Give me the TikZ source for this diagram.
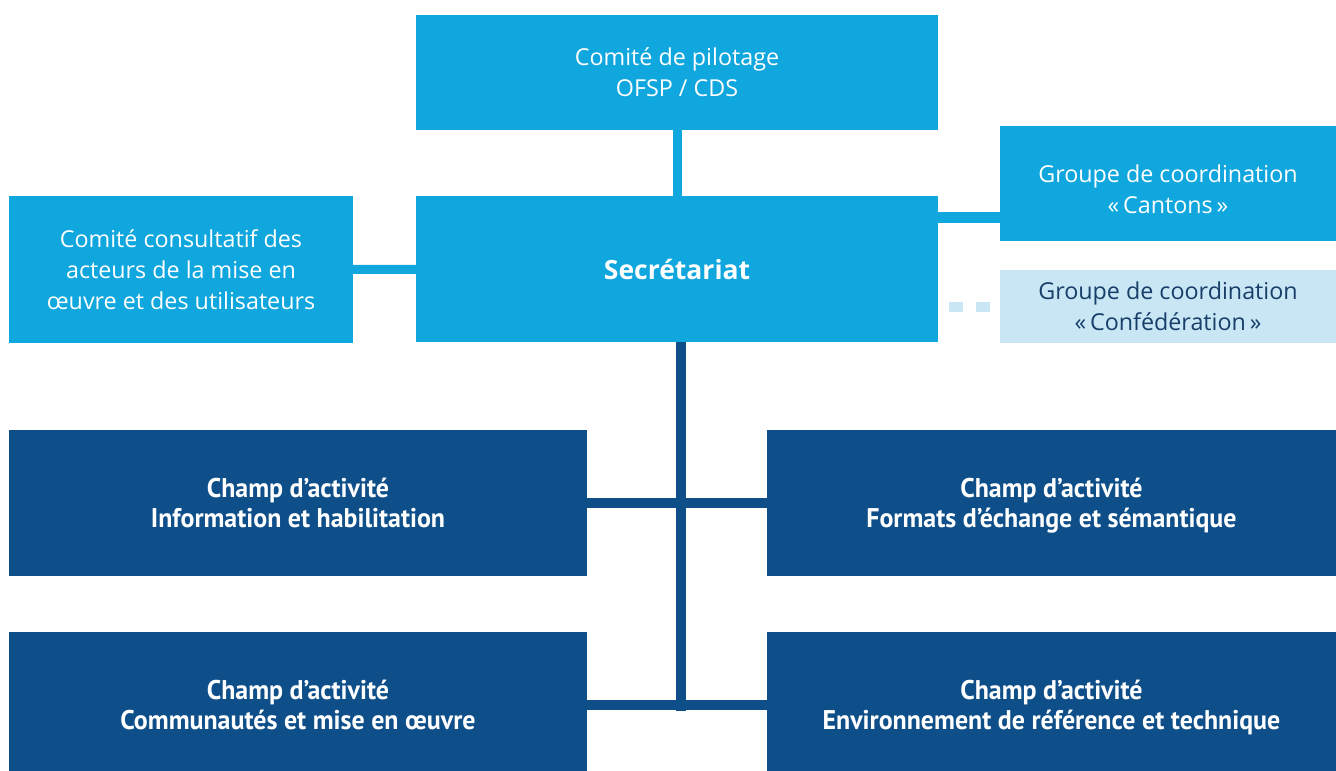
\documentclass[tikz,border=0pt]{standalone}
\usepackage{fontspec}
\setmainfont{Open Sans}
\newfontfamily\champfont{PT Sans}[FakeStretch=0.96]
\usepackage{xcolor}
\definecolor{orgblue}{RGB}{16,166,222}
\definecolor{orgdark}{RGB}{14,79,138}
\definecolor{orgpale}{RGB}{200,230,244}
\definecolor{orgtext}{RGB}{24,62,106}
\newcommand{\nodepth}[1]{\raisebox{0pt}[\height][0pt]{#1}}

\begin{document}
\begin{tikzpicture}[x=1pt, y=-1pt,
    every node/.style={text centered, align=center, inner sep=0pt},
    lightbox/.style={fill=orgblue, text=white, font=\fontsize{23.3}{31}\selectfont},
    palebox/.style={fill=orgpale, text=orgtext, font=\fontsize{23.3}{31}\selectfont},
    fieldbox/.style={fill=orgdark, text=white, minimum width=578pt, minimum height=146pt,
        font=\champfont\bfseries\fontsize{27}{30}\selectfont},
    lightlink/.style={line width=9pt, color=orgblue},
    darklink/.style={line width=10pt, color=orgdark}]
    \useasboundingbox (0,0) rectangle (1336,771);
    % upper part
    \node[lightbox, minimum width=522pt, minimum height=115pt] (pilot) at (677,72.5) {Comité de pilotage\\OFSP / CDS};
    \node[lightbox, minimum width=522pt, minimum height=146pt, font=\bfseries\fontsize{26.5}{30}\selectfont] (sec) at (677,269) {Secrétariat};
    \node[lightbox, minimum width=344pt, minimum height=147pt] (consult) at (181,269.5) {Comité consultatif des\\acteurs de la mise en\\œuvre et des utilisateurs};
    \node[lightbox, minimum width=336pt, minimum height=115pt] (cantons) at (1168,183.5) {\rule{0pt}{29pt}Groupe de coordination\\«\,Cantons\,»};
    \node[palebox, minimum width=336pt, minimum height=73pt] (confed) at (1168,306.5) {Groupe de coordination\\«\,Confédération\,»};
    % fields of activity
    \node[fieldbox] (fieldA) at (298,503) {Champ d’activité\\Information et habilitation};
    \node[fieldbox, minimum width=569pt] (fieldB) at (1051.5,503) {Champ d’activité\\\nodepth{Formats d’échange et sémantique}};
    \node[fieldbox] (fieldC) at (298,705) {Champ d’activité\\Communautés et mise en œuvre};
    \node[fieldbox, minimum width=569pt] (fieldD) at (1051.5,705) {Champ d’activité\\\nodepth{Environnement de référence et technique}};
    \coordinate (stem) at (680.5,711);

    \draw[lightlink] (pilot) -- (sec);
    \draw[lightlink] (consult) -- (sec);
    \draw[lightlink, line width=11pt] (sec.east |- 0,217.5) -- (cantons.west |- 0,217.5);
    \draw[lightlink, color=orgpale, line width=10pt, dash pattern=on 14pt off 13pt,
        shorten <=11pt, shorten >=10pt] (sec.east |- confed) -- (confed);
    \draw[darklink] (sec.south -| stem) -- (stem);
    \draw[darklink] (fieldA) -- (fieldB);
    \draw[darklink] (fieldC) -- (fieldD);
\end{tikzpicture}
\end{document}
